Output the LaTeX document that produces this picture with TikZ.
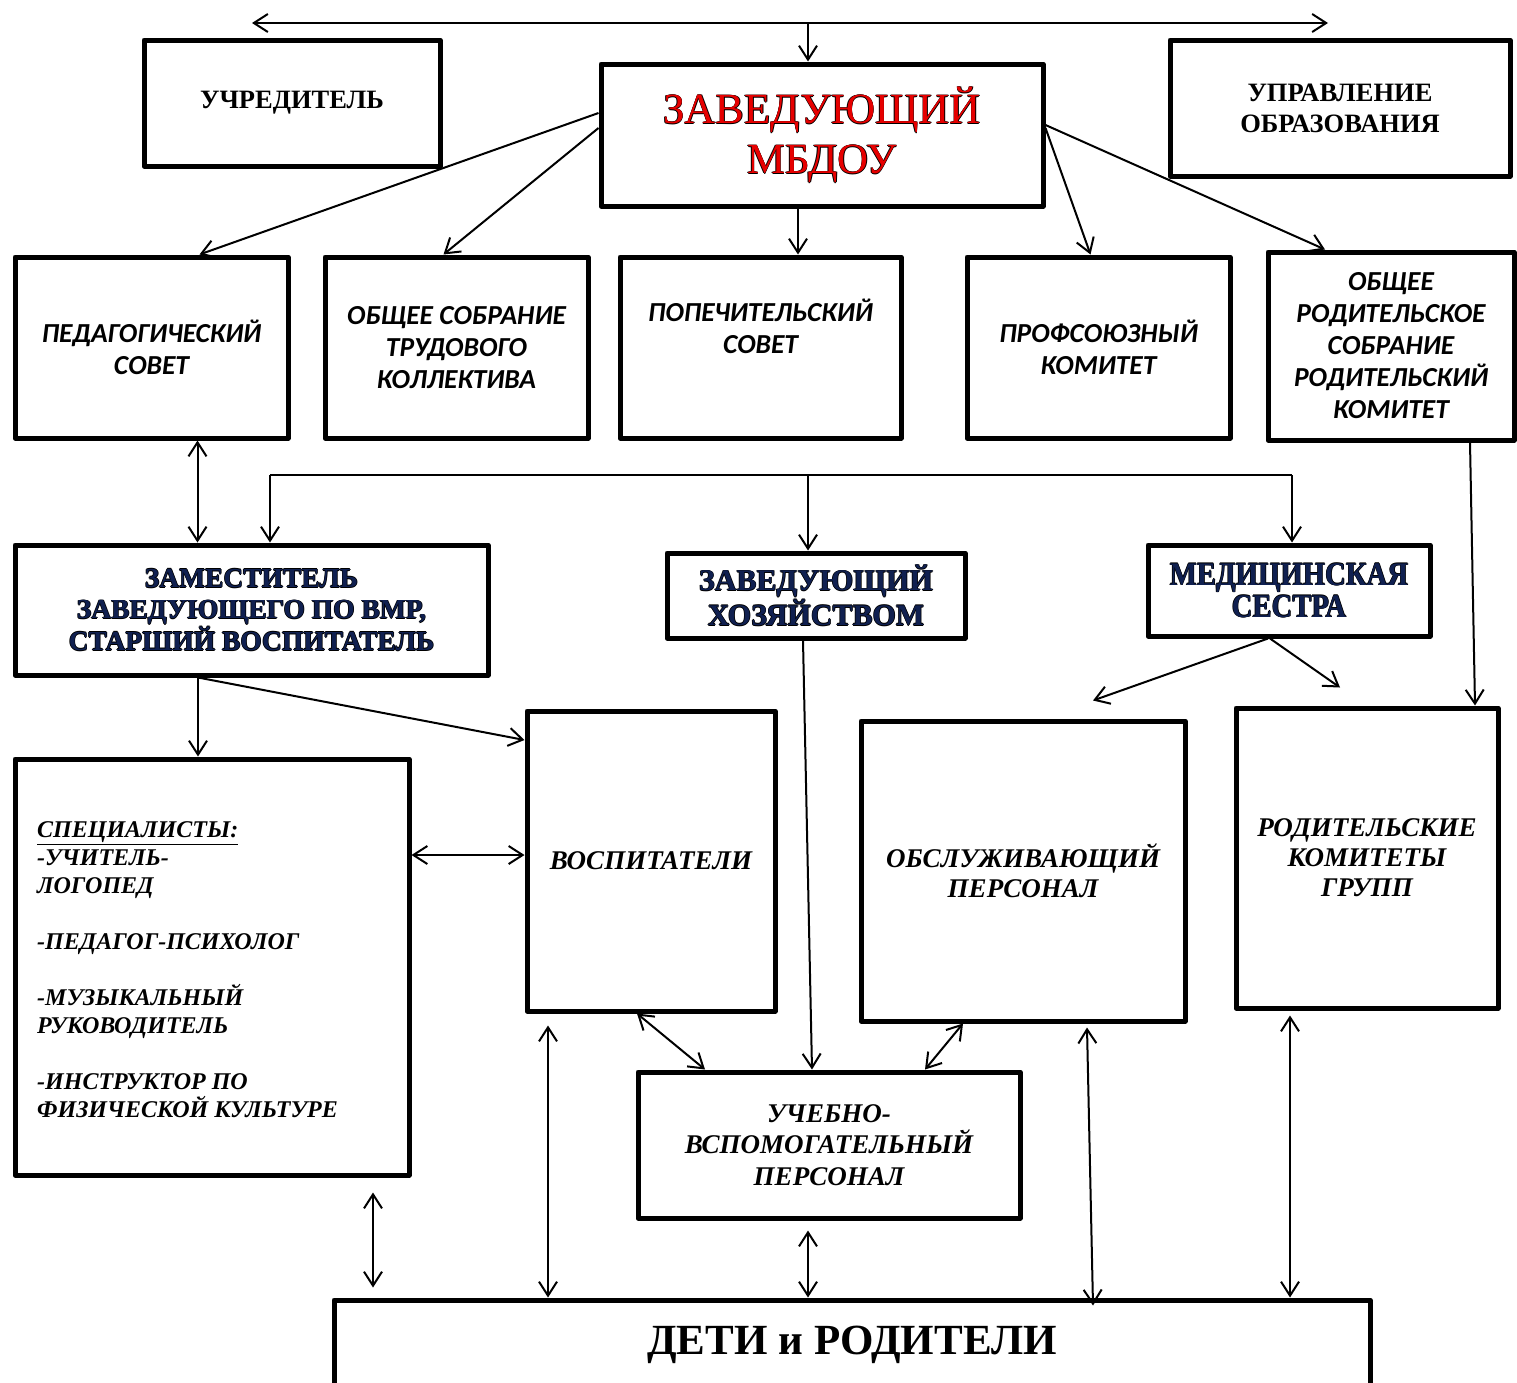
\documentclass[tikz,border=0pt]{standalone}
\usepackage{fontspec}
\setmainfont{Liberation Serif}
\newfontfamily\calfont{Carlito}
\usetikzlibrary{arrows.meta}
\definecolor{zamblue}{RGB}{16,32,80}
\definecolor{zavred}{RGB}{230,0,0}
\newcommand\olt[3][0.8pt]{\leavevmode\rlap{\kern-#1#3}\rlap{\kern#1#3}\rlap{\raisebox{#1}{#3}}\rlap{\raisebox{-#1}{#3}}\textcolor{#2}{#3}}
\begin{document}
\begin{tikzpicture}[x=1pt,y=-1pt,
  box/.style={draw,line width=5pt,line join=round,inner sep=0pt,align=center},
  serb/.style={font=\fontsize{26.5}{31}\selectfont\bfseries},
  calb/.style={font=\calfont\fontsize{27.5}{32}\selectfont\bfseries\itshape},
  serbi/.style={font=\fontsize{27}{30}\selectfont\bfseries\itshape},
  conn/.style={line width=2pt,-{Straight Barb[length=14pt,width=18pt,line width=2pt]}},
  conn2/.style={line width=2pt,{Straight Barb[length=14pt,width=18pt,line width=2pt]}-{Straight Barb[length=14pt,width=18pt,line width=2pt]}},
  bus/.style={line width=2pt}]
\clip (0,0) rectangle (1517,1382);
\fill[white] (0,0) rectangle (1517,1382);
% top row
\node[box,serb,minimum width=296pt,minimum height=126pt] (uchr) at (292,103) {УЧРЕДИТЕЛЬ};
\node[box,minimum width=442pt,minimum height=142pt,font=\fontsize{43}{50}\selectfont] (zav) at (822,135) {\olt[0.6pt]{zavred}{ЗАВЕДУЮЩИЙ}\\\olt[0.6pt]{zavred}{МБДОУ}};
\node[box,serb,minimum width=340pt,minimum height=136pt] (upr) at (1340,108) {УПРАВЛЕНИЕ\\ОБРАЗОВАНИЯ};
% second row
\node[box,calb,minimum width=273pt,minimum height=181pt] (ped) at (151.5,347.5) {ПЕДАГОГИЧЕСКИЙ\\СОВЕТ};
\node[box,calb,minimum width=263pt,minimum height=181pt] (obs) at (456.5,347.5) {ОБЩЕЕ СОБРАНИЕ\\ТРУДОВОГО\\КОЛЛЕКТИВА};
\node[box,calb,minimum width=281pt,minimum height=181pt] (pop) at (760.5,347.5) {ПОПЕЧИТЕЛЬСКИЙ\\СОВЕТ\\\strut};
\node[box,calb,minimum width=263pt,minimum height=181pt] (prof) at (1098.5,347.5) {ПРОФСОЮЗНЫЙ\\КОМИТЕТ};
\node[box,calb,minimum width=246pt,minimum height=188pt] (ord) at (1391,346) {ОБЩЕЕ\\РОДИТЕЛЬСКОЕ\\СОБРАНИЕ\\РОДИТЕЛЬСКИЙ\\КОМИТЕТ};
% third row
\node[box,minimum width=473pt,minimum height=130pt,font=\fontsize{27.5}{31.5}\selectfont\bfseries] (zam) at (251.5,610) {\olt[0.7pt]{zamblue}{ЗАМЕСТИТЕЛЬ}\\\olt[0.7pt]{zamblue}{ЗАВЕДУЮЩЕГО ПО ВМР,}\\\olt[0.7pt]{zamblue}{СТАРШИЙ ВОСПИТАТЕЛЬ}};
\node[box,minimum width=298pt,minimum height=85pt,font=\fontsize{30}{31}\selectfont\bfseries] (hoz) at (816,595.5) {\olt[0.7pt]{zamblue}{ЗАВЕДУЮЩИЙ}\\\olt[0.7pt]{zamblue}{ХОЗЯЙСТВОМ}};
\node[box,minimum width=282pt,minimum height=91pt,font=\fontsize{33}{32}\selectfont\bfseries] (med) at (1289,590.5) {\scalebox{0.87}[1]{\olt[0.7pt]{zamblue}{МЕДИЦИНСКАЯ}}\\\scalebox{0.87}[1]{\olt[0.7pt]{zamblue}{СЕСТРА}}};
% fourth row
\node[box,minimum width=394pt,minimum height=416pt] (spec) at (212,967) {};
\node[font=\fontsize{24}{28}\selectfont\bfseries\itshape,align=left,anchor=west,inner sep=0pt] (spectxt) at (37,970) {\underline{СПЕЦИАЛИСТЫ:}\\-УЧИТЕЛЬ-\\ЛОГОПЕД\\[28pt]-ПЕДАГОГ-ПСИХОЛОГ\\[28pt]-МУЗЫКАЛЬНЫЙ\\РУКОВОДИТЕЛЬ\\[28pt]-ИНСТРУКТОР ПО\\ФИЗИЧЕСКОЙ КУЛЬТУРЕ};
\node[box,serbi,minimum width=248pt,minimum height=300pt] (vosp) at (651,861) {ВОСПИТАТЕЛИ};
\node[box,serbi,minimum width=324pt,minimum height=300pt] (obsl) at (1023,871) {ОБСЛУЖИВАЮЩИЙ\\ПЕРСОНАЛ};
\node[box,serbi,minimum width=262pt,minimum height=300pt] (rod) at (1367,858) {РОДИТЕЛЬСКИЕ\\КОМИТЕТЫ\\ГРУПП};
\node[box,minimum width=382pt,minimum height=146pt,font=\fontsize{27}{31.5}\selectfont\bfseries\itshape] (ucheb) at (829,1145) {УЧЕБНО-\\ВСПОМОГАТЕЛЬНЫЙ\\ПЕРСОНАЛ};
\node[box,minimum width=1036pt,minimum height=90pt,font=\fontsize{43}{50}\selectfont\bfseries] (deti) at (852,1345) {ДЕТИ и РОДИТЕЛИ};
% top bus
\coordinate (tl) at (252,23);
\coordinate (tm) at (808,23);
\coordinate (tr) at (1328,23);
\draw[conn2] (tl) -- (tr);
\draw[conn] (tm) -- (tm |- zav.north);
% from head
\draw[conn] ([yshift=22pt]zav.west) -- ([xshift=48pt]ped.north);
\draw[conn] ([yshift=7pt]zav.west) -- ([xshift=-13pt]obs.north);
\draw[conn] ([xshift=-24pt]zav.south) -- ([xshift=-24pt]zav.south |- pop.north);
\draw[conn] ([yshift=7pt]zav.east) -- ([xshift=-8pt]prof.north);
\draw[conn] ([yshift=10pt]zav.east) -- ([xshift=-66pt]ord.north);
% ped <-> zam
\draw[conn2] ([xshift=46pt]ped.south) -- ([xshift=46pt]ped.south |- zam.north);
% middle bus
\coordinate (b1) at (270,475);
\coordinate (b2) at (808,475);
\coordinate (b3) at (1292,475);
\draw[bus] (b1) -- (b3);
\draw[conn] (b1) -- (b1 |- zam.north);
\draw[conn] (b2) -- (b2 |- hoz.north);
\draw[conn] (b3) -- (b3 |- med.north);
% zam
\draw[conn] ([xshift=-53.5pt]zam.south) -- ([xshift=-14pt]spec.north);
\draw[conn] ([xshift=-53.5pt]zam.south) -- ([yshift=121pt]vosp.west);
% hoz
\draw[conn] ([xshift=-13pt]hoz.south) -- ([xshift=-17pt]ucheb.north);
% med
\draw[conn] ([xshift=-21pt]med.south) -- ([shift={(70pt,18pt)}]obsl.north);
\draw[conn] ([xshift=-19pt]med.south) -- ([shift={(-27pt,18pt)}]rod.north);
% ord -> rod
\draw[conn] ([xshift=79pt]ord.south) -- ([xshift=108pt]rod.north);
% spec <-> vosp
\draw[conn2] ([yshift=6pt]vosp.west -| spec.east) -- ([yshift=6pt]vosp.west);
% to ucheb
\draw[conn2] ([xshift=-14pt]vosp.south) -- ([xshift=-124pt]ucheb.north);
\draw[conn2] ([xshift=-60pt]obsl.south) -- ([xshift=96pt]ucheb.north);
% to deti
\draw[conn2] ([shift={(161pt,-15pt)}]spec.south) -- ([shift={(-479pt,10pt)}]deti.north);
\draw[conn2] ([shift={(-103pt,-12pt)}]vosp.south) -- ([xshift=-304pt]deti.north);
\draw[conn2] ([shift={(-21pt,-10pt)}]ucheb.south) -- ([xshift=-44pt]deti.north);
\draw[conn2] ([shift={(64pt,-4pt)}]obsl.south) -- ([shift={(241pt,-8pt)}]deti.north);
\draw[conn2] ([shift={(-77pt,-5pt)}]rod.south) -- ([xshift=438pt]deti.north);
\end{tikzpicture}
\end{document}
